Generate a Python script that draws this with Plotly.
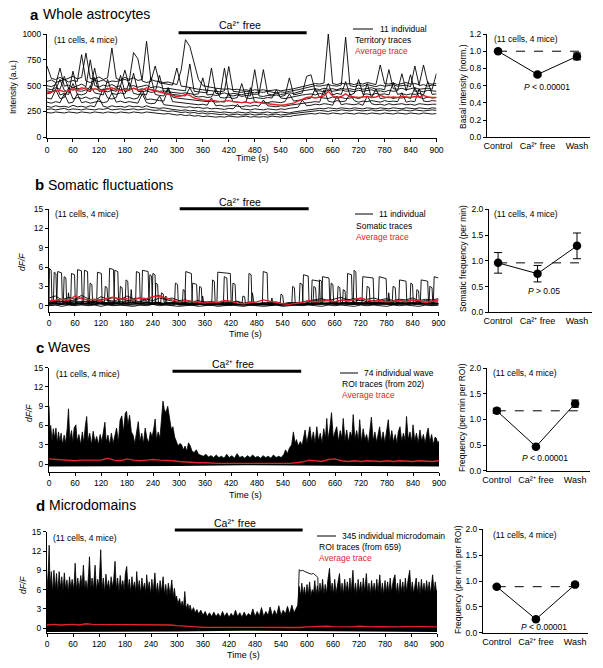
import plotly.graph_objects as go

W, H = 603, 668
FONT = "Liberation Sans, Arial, Helvetica, sans-serif"
RED = "#e4222b"


def fx(p):
    return p / W


def fy(p):
    return 1 - p / H


# ---------------- DATA ----------------
# Panel a: 11 territory traces, sampled every 10 s (0..900)
t_a = list(range(0, 901, 10))
a_cell01 = [690, 570, 560, 580, 555, 570, 590, 565, 580, 815,
            570, 560, 585, 560, 575, 865, 570, 555, 580, 560,
            575, 550, 560, 930, 560, 545, 540, 530, 535, 520,
            510, 650, 945, 880, 720, 560, 500, 490, 480, 475,
            470, 465, 470, 460, 465, 455, 460, 450, 460, 455,
            460, 450, 455, 460, 450, 455, 460, 470, 480, 490,
            500, 510, 520, 515, 525, 1000, 520, 510, 525, 515,
            520, 510, 525, 515, 530, 520, 510, 700, 520, 515,
            525, 510, 520, 530, 515, 520, 510, 700, 520, 515,
            520]
a_cell02 = [540, 555, 530, 545, 560, 535, 550, 540, 800, 545,
            530, 550, 540, 555, 530, 545, 540, 550, 560, 545,
            820, 760, 545, 530, 540, 690, 525, 520, 510, 505,
            670, 495, 490, 480, 470, 465, 460, 455, 450, 445,
            440, 450, 685, 445, 440, 435, 445, 440, 430, 440,
            435, 445, 440, 430, 440, 435, 445, 450, 460, 470,
            480, 490, 500, 495, 505, 510, 500, 495, 505, 970,
            500, 490, 505, 495, 510, 500, 490, 505, 495, 500,
            510, 495, 500, 505, 490, 690, 500, 510, 495, 505,
            500]
a_cell03 = [500, 490, 510, 670, 495, 505, 480, 500, 515, 490,
            750, 500, 485, 505, 495, 510, 490, 500, 650, 495,
            500, 485, 495, 505, 480, 490, 485, 470, 475, 465,
            460, 455, 450, 710, 445, 440, 435, 430, 670, 425,
            420, 430, 415, 425, 420, 410, 425, 420, 415, 420,
            655, 420, 410, 425, 415, 420, 430, 425, 440, 450,
            455, 465, 470, 460, 475, 465, 470, 460, 475, 465,
            470, 460, 475, 465, 470, 480, 465, 470, 460, 655,
            470, 465, 475, 460, 470, 480, 465, 470, 475, 465,
            620]
a_cell04 = [470, 460, 480, 465, 590, 470, 455, 475, 465, 480,
            460, 670, 470, 455, 475, 465, 480, 460, 470, 465,
            475, 460, 470, 455, 465, 450, 445, 450, 440, 435,
            430, 425, 430, 420, 415, 420, 575, 410, 415, 405,
            410, 670, 405, 400, 410, 395, 405, 400, 655, 400,
            395, 405, 400, 410, 395, 405, 575, 410, 420, 430,
            590, 605, 445, 450, 440, 455, 445, 450, 460, 445,
            450, 440, 455, 445, 450, 460, 445, 450, 440, 455,
            445, 450, 615, 450, 605, 445, 450, 440, 455, 450,
            445]
a_cell05 = [450, 440, 460, 560, 455, 435, 640, 450, 445, 460,
            440, 580, 445, 450, 440, 455, 445, 600, 440, 455,
            620, 445, 440, 450, 435, 440, 600, 430, 420, 415,
            410, 405, 400, 480, 400, 390, 395, 385, 390, 470,
            385, 380, 390, 375, 385, 520, 380, 375, 385, 380,
            375, 385, 380, 460, 380, 375, 385, 390, 400, 410,
            415, 420, 410, 425, 415, 520, 410, 425, 415, 540,
            410, 425, 560, 415, 420, 410, 425, 415, 420, 410,
            530, 415, 425, 410, 420, 415, 425, 410, 540, 415,
            420]
a_cell06 = [420, 430, 520, 410, 425, 415, 520, 420, 410, 425,
            500, 430, 420, 410, 560, 425, 415, 430, 420, 530,
            425, 415, 420, 410, 580, 415, 405, 400, 480, 390,
            380, 375, 370, 365, 360, 355, 350, 345, 350, 340,
            345, 340, 430, 345, 340, 335, 345, 480, 340, 335,
            340, 335, 345, 340, 335, 345, 420, 350, 360, 365,
            370, 380, 470, 385, 380, 375, 390, 380, 385, 375,
            380, 385, 375, 390, 520, 380, 470, 375, 380, 390,
            375, 385, 380, 390, 375, 480, 385, 375, 390, 380,
            385]
a_cell07 = [380, 370, 460, 375, 385, 480, 370, 385, 375, 390,
            370, 385, 375, 470, 380, 370, 385, 500, 375, 385,
            370, 380, 460, 365, 370, 360, 355, 350, 470, 345,
            340, 335, 330, 325, 320, 315, 320, 310, 380, 305,
            310, 300, 305, 310, 300, 295, 305, 300, 310, 300,
            360, 305, 300, 295, 305, 300, 310, 315, 320, 330,
            335, 340, 345, 340, 460, 350, 340, 355, 345, 350,
            420, 355, 340, 350, 345, 355, 350, 340, 355, 345,
            350, 345, 430, 340, 350, 345, 470, 350, 345, 355,
            350]
a_cell08 = [340, 330, 345, 335, 420, 330, 340, 420, 335, 345,
            330, 340, 350, 335, 345, 430, 340, 350, 335, 345,
            340, 330, 420, 335, 325, 330, 400, 315, 310, 305,
            300, 295, 290, 295, 285, 290, 280, 285, 275, 280,
            275, 270, 280, 275, 320, 275, 270, 265, 275, 270,
            265, 275, 270, 265, 275, 270, 280, 285, 290, 360,
            305, 310, 320, 315, 325, 320, 310, 400, 315, 325,
            320, 315, 325, 310, 400, 325, 315, 320, 310, 325,
            315, 320, 325, 315, 320, 310, 325, 320, 315, 320,
            320]
a_cell09 = [300, 290, 305, 295, 300, 290, 310, 295, 300, 290,
            305, 295, 380, 300, 290, 305, 295, 300, 290, 305,
            295, 300, 290, 305, 290, 285, 280, 285, 275, 270,
            265, 260, 265, 255, 260, 250, 255, 245, 250, 245,
            240, 245, 240, 235, 245, 240, 235, 245, 240, 235,
            240, 245, 235, 240, 245, 240, 235, 245, 250, 260,
            265, 270, 275, 280, 275, 285, 280, 275, 285, 280,
            275, 285, 280, 275, 285, 280, 275, 285, 280, 275,
            285, 280, 275, 285, 280, 275, 285, 280, 275, 285,
            280]
a_cell10 = [270, 275, 265, 270, 280, 265, 275, 270, 265, 275,
            270, 265, 275, 270, 280, 265, 270, 275, 265, 270,
            275, 265, 270, 275, 265, 260, 265, 255, 250, 255,
            245, 240, 245, 235, 240, 230, 235, 225, 230, 225,
            220, 225, 215, 220, 225, 215, 220, 225, 215, 220,
            225, 215, 220, 225, 215, 220, 225, 230, 235, 240,
            245, 250, 255, 260, 255, 250, 260, 255, 265, 260,
            255, 265, 260, 255, 260, 265, 255, 260, 265, 255,
            260, 255, 265, 260, 255, 265, 260, 255, 260, 265,
            260]
a_cell11 = [240, 235, 245, 240, 235, 245, 240, 235, 245, 240,
            235, 245, 240, 235, 245, 240, 235, 245, 240, 235,
            245, 240, 235, 245, 240, 235, 230, 225, 230, 220,
            215, 220, 210, 215, 205, 210, 200, 205, 200, 195,
            200, 195, 205, 200, 195, 200, 205, 195, 200, 195,
            200, 195, 205, 200, 195, 205, 200, 210, 215, 220,
            225, 230, 225, 235, 230, 225, 235, 230, 225, 235,
            230, 225, 235, 230, 225, 235, 230, 225, 235, 230,
            225, 235, 230, 225, 235, 230, 225, 235, 230, 225,
            230]
a_average = [430, 440, 445, 455, 440, 450, 470, 455, 480, 470,
             455, 470, 460, 450, 465, 480, 460, 450, 465, 455,
             475, 460, 455, 480, 460, 450, 440, 430, 420, 410,
             395, 400, 415, 405, 380, 370, 360, 355, 360, 350,
             345, 350, 355, 345, 340, 335, 340, 330, 345, 335,
             330, 325, 320, 315, 310, 315, 320, 330, 350, 370,
             385, 390, 380, 390, 400, 445, 400, 385, 395, 420,
             395, 390, 385, 390, 395, 385, 390, 405, 390, 385,
             390, 385, 395, 390, 385, 395, 390, 405, 390, 385,
             385]

# Panel b: somatic traces with events, as (time s, dF/F) points
b_cell01 = [(0, 0.4), (1, 5.8), (5, 5.5), (7, 0.4), (25, 0.3), (40, 0.5), (50, 0.3), (52, 5.0), (59, 4.8), (61, 0.4),
            (80, 0.3), (100, 0.5), (120, 0.3), (138, 0.4), (140, 5.8), (149, 5.6), (151, 0.4), (170, 0.3), (190, 0.5),
            (214, 0.3), (216, 5.5), (229, 5.3), (231, 0.4), (260, 0.3), (290, 0.4), (314, 0.3), (316, 5.3), (329, 5.0),
            (331, 0.3), (360, 0.3), (388, 0.4), (390, 5.2), (419, 5.0), (421, 0.3), (450, 0.2), (480, 0.3), (493, 0.3),
            (495, 5.3), (504, 5.1), (506, 0.3), (540, 0.2), (570, 0.3), (586, 0.3), (588, 4.8), (599, 4.6), (601, 0.3),
            (640, 0.4), (670, 0.3), (688, 0.4), (690, 5.0), (699, 4.8), (701, 0.4), (723, 0.3), (725, 4.5), (749, 4.3),
            (751, 0.4), (790, 0.3), (830, 0.4), (858, 0.3), (860, 4.0), (875, 3.8), (877, 0.4), (900, 0.3)]
b_cell02 = [(0, 0.2), (10, 0.3), (12, 5.2), (16, 5.0), (18, 0.3), (40, 0.2), (64, 0.3), (66, 5.6), (75, 5.4), (77, 0.3),
            (100, 0.2), (130, 0.3), (150, 0.2), (152, 5.5), (159, 5.3), (161, 0.3), (185, 0.2), (200, 0.3), (202, 5.3),
            (209, 5.1), (211, 0.3), (250, 0.2), (300, 0.3), (330, 0.2), (332, 3.5), (341, 3.3), (343, 0.3), (400, 0.2),
            (460, 0.2), (462, 5.0), (467, 4.8), (469, 0.2), (520, 0.3), (580, 0.2), (606, 0.3), (608, 4.0), (625, 3.8),
            (627, 0.3), (660, 0.4), (703, 0.3), (705, 5.5), (709, 5.2), (711, 0.3), (760, 0.4), (808, 0.3), (810, 4.0),
            (825, 3.8), (827, 0.3), (860, 0.4), (888, 0.3), (890, 4.5), (900, 4.3)]
b_cell03 = [(0, 0.5), (18, 0.4), (20, 5.3), (29, 5.1), (31, 0.5), (60, 0.4), (80, 0.5), (82, 5.5), (89, 5.3), (91, 0.4),
            (130, 0.5), (176, 0.4), (178, 4.0), (182, 3.8), (184, 0.5), (210, 0.4), (231, 0.5), (233, 4.8), (237, 4.6),
            (239, 0.4), (290, 0.3), (340, 0.3), (376, 0.3), (378, 4.0), (382, 3.8), (384, 0.3), (403, 0.3), (405, 4.5),
            (411, 4.3), (413, 0.3), (480, 0.2), (561, 0.2), (563, 3.0), (567, 2.8), (569, 0.2), (600, 0.3), (630, 0.3),
            (632, 4.5), (647, 4.3), (649, 0.3), (700, 0.4), (761, 0.3), (763, 4.5), (779, 4.2), (781, 0.3), (840, 0.4),
            (900, 0.3)]
b_cell04 = [(0, 0.1), (33, 0.2), (35, 4.5), (39, 4.3), (41, 0.2), (80, 0.1), (110, 0.2), (112, 5.2), (121, 5.0),
            (123, 0.2), (180, 0.1), (245, 0.2), (247, 3.5), (251, 3.3), (253, 0.2), (290, 0.1), (292, 3.5), (297, 3.3),
            (299, 0.1), (346, 0.1), (348, 3.0), (352, 2.8), (354, 0.1), (423, 0.1), (425, 3.5), (430, 3.3), (432, 0.1),
            (500, 0.1), (578, 0.1), (580, 3.5), (585, 3.3), (587, 0.2), (650, 0.2), (652, 3.5), (656, 3.3), (658, 0.2),
            (740, 0.2), (834, 0.2), (836, 3.5), (840, 3.3), (842, 0.2), (900, 0.1)]
b_cell05 = [(0, 0.6), (50, 0.7), (128, 0.6), (130, 3.0), (134, 2.8), (136, 0.6), (188, 0.6), (190, 2.5), (192, 0.6),
            (258, 0.5), (260, 2.0), (264, 1.8), (266, 0.5), (350, 0.4), (446, 0.3), (448, 1.5), (452, 1.4), (454, 0.3),
            (534, 0.3), (536, 1.8), (540, 1.6), (542, 0.3), (623, 0.4), (625, 4.0), (630, 3.8), (632, 0.4), (666, 0.5),
            (668, 3.0), (672, 2.8), (674, 0.5), (793, 0.5), (795, 3.0), (800, 2.8), (802, 0.5), (900, 0.6)]
b_cell06 = [(0, 0.3), (43, 0.3), (45, 2.0), (48, 0.3), (93, 0.3), (95, 3.5), (99, 3.3), (101, 0.3), (163, 0.3),
            (165, 3.0), (169, 2.8), (171, 0.3), (238, 0.3), (240, 5.0), (245, 4.8), (247, 0.3), (268, 0.3), (270, 1.5),
            (273, 0.3), (308, 0.2), (310, 2.5), (314, 2.3), (316, 0.2), (353, 0.2), (355, 1.5), (358, 0.2), (468, 0.2),
            (470, 2.0), (474, 0.2), (513, 0.2), (515, 1.2), (518, 0.2), (610, 0.3), (612, 3.0), (616, 2.8), (618, 0.3),
            (678, 0.3), (680, 2.5), (684, 2.3), (686, 0.3), (733, 0.3), (735, 3.0), (740, 2.8), (742, 0.3), (783, 0.3),
            (785, 2.0), (788, 0.3), (848, 0.3), (850, 2.5), (854, 2.3), (856, 0.3), (878, 0.3), (880, 3.0), (885, 2.8),
            (887, 0.3), (900, 0.3)]
# quieter somatic traces, every 15 s
t_b = list(range(0, 901, 15))
b_cell07 = [0.8, 0.6, 1.0, 0.7, 0.9, 1.2, 0.8, 0.6, 1.0, 0.9, 0.7, 1.1, 0.8, 0.9, 0.6, 1.0, 0.8, 1.2, 0.9, 0.7,
            0.6, 0.5, 0.7, 0.4, 0.6, 0.5, 0.3, 0.5, 0.4, 0.6, 0.3, 0.5, 0.4, 0.3, 0.5, 0.4, 0.3, 0.4, 0.5, 0.3,
            0.6, 0.8, 0.7, 0.9, 0.6, 0.8, 1.0, 0.7, 0.9, 0.6, 0.8, 0.7, 0.9, 0.6, 0.8, 0.7, 0.9, 0.6, 0.8, 0.7, 0.9]
b_cell08 = [0.3, 0.5, 0.2, 0.4, 0.6, 0.3, 0.5, 0.2, 0.4, 0.3, 0.5, 0.2, 0.4, 0.6, 0.3, 0.5, 0.2, 0.4, 0.3, 0.5,
            0.2, 0.3, 0.1, 0.3, 0.2, 0.1, 0.3, 0.2, 0.1, 0.2, 0.1, 0.2, 0.1, 0.3, 0.1, 0.2, 0.1, 0.2, 0.1, 0.2,
            0.3, 0.2, 0.4, 0.3, 0.2, 0.4, 0.3, 0.2, 0.4, 0.3, 0.2, 0.4, 0.3, 0.2, 0.4, 0.3, 0.2, 0.4, 0.3, 0.2, 0.3]
b_cell09 = [0.0, 0.1, -0.1, 0.1, 0.0, 0.2, 0.0, 0.1, -0.1, 0.1, 0.0, 0.1, 0.0, -0.1, 0.1, 0.0, 0.2, 0.0, 0.1, 0.0,
            -0.1, 0.0, 0.1, -0.1, 0.0, 0.1, -0.1, 0.0, 0.1, 0.0, -0.1, 0.1, 0.0, -0.1, 0.0, 0.1, -0.1, 0.0, 0.1, 0.0,
            0.1, 0.0, -0.1, 0.1, 0.0, 0.1, 0.0, -0.1, 0.1, 0.0, 0.1, 0.0, -0.1, 0.1, 0.0, 0.1, 0.0, -0.1, 0.1, 0.0, 0.1]
b_cell10 = [1.2, 1.5, 0.9, 1.3, 1.0, 1.6, 1.1, 0.8, 1.4, 1.0, 1.3, 0.9, 1.5, 1.1, 1.2, 0.8, 1.4, 1.6, 1.0, 1.2,
            0.8, 0.9, 0.6, 0.8, 0.5, 0.7, 0.4, 0.6, 0.5, 0.7, 0.4, 0.6, 0.3, 0.5, 0.4, 0.6, 0.3, 0.5, 0.4, 0.6,
            0.7, 0.9, 1.1, 0.8, 1.0, 1.3, 0.9, 1.1, 0.8, 1.0, 1.2, 0.9, 1.1, 0.8, 1.0, 0.9, 1.2, 0.8, 1.0, 0.9, 1.1]
b_cell11 = [0.5, 0.3, 0.6, 0.4, 0.2, 0.5, 0.3, 0.6, 0.4, 0.5, 0.3, 0.6, 0.4, 0.5, 0.3, 0.6, 0.4, 0.5, 0.3, 0.4,
            0.3, 0.2, 0.4, 0.2, 0.3, 0.1, 0.3, 0.2, 0.1, 0.3, 0.2, 0.1, 0.3, 0.2, 0.1, 0.2, 0.1, 0.3, 0.2, 0.1,
            0.3, 0.5, 0.4, 0.3, 0.5, 0.4, 0.3, 0.5, 0.4, 0.3, 0.5, 0.4, 0.3, 0.5, 0.4, 0.3, 0.5, 0.4, 0.3, 0.5, 0.4]
b_average = [0.7, 0.9, 1.0, 0.8, 1.5, 1.1, 0.9, 1.0, 0.8, 1.2, 1.3, 1.0, 1.1, 0.9, 1.2, 1.1, 1.4, 1.5, 1.2, 1.0,
             0.6, 0.8, 0.7, 0.5, 0.4, 0.6, 0.5, 0.8, 0.7, 0.4, 0.3, 0.5, 0.6, 0.9, 0.7, 0.4, 0.3, 0.2, 0.3, 0.5,
             0.8, 0.6, 0.7, 0.8, 0.6, 0.9, 0.7, 1.0, 1.2, 0.9, 0.7, 0.8, 0.6, 0.7, 0.8, 0.6, 0.9, 0.8, 0.5, 0.7, 0.9]

# Panel c: upper edge of the 74 wave ROI traces (time s, dF/F), lower edge, average
c_upper = [(0, 9.0), (2, 5), (4, 6), (7, 3.5), (10, 5.5), (13, 4), (16, 5.6), (19, 3.2), (22, 5.0), (25, 3.5), (28, 4.8),
           (31, 3.0), (35, 4.5), (38, 3.2), (42, 5.5), (45, 8.6), (48, 3.8), (52, 5.2), (55, 3.3), (58, 5.6), (62, 6.1),
           (65, 3.5), (69, 4.6), (73, 3.0), (77, 5.0), (80, 3.3), (84, 6.0), (87, 7.4), (90, 3.6), (94, 4.8), (98, 3.0),
           (102, 5.1), (106, 3.4), (110, 4.3), (114, 3.0), (118, 4.6), (122, 3.5), (126, 5.2), (129, 6.5), (132, 3.4),
           (136, 4.5), (140, 3.0), (144, 4.8), (148, 3.2), (152, 4.4), (156, 5.6), (160, 3.3), (164, 6.8), (168, 7.5),
           (172, 5.0), (176, 7.9), (179, 8.2), (182, 6.0), (186, 7.6), (190, 5.0), (194, 4.5), (198, 3.2), (202, 5.2),
           (206, 6.6), (210, 3.5), (214, 4.8), (218, 3.2), (222, 5.6), (226, 4.0), (230, 3.3), (234, 5.0), (238, 4.2),
           (242, 5.6), (245, 7.0), (248, 3.8), (252, 5.0), (256, 4.0), (260, 7.5), (263, 9.8), (266, 8.5), (270, 8.0),
           (274, 9.0), (278, 7.5), (282, 5.5), (286, 5.8), (290, 4.2), (294, 3.5), (298, 2.8), (302, 3.2), (306, 3.0),
           (310, 2.2), (314, 2.8), (318, 2.0), (322, 3.3), (326, 2.8), (330, 2.0), (335, 1.8), (340, 2.2), (345, 1.5),
           (350, 1.4), (356, 1.2), (362, 1.5), (368, 1.1), (374, 1.3), (380, 1.0), (386, 1.4), (392, 1.0), (398, 1.2),
           (404, 0.9), (410, 1.5), (416, 1.0), (422, 1.3), (428, 0.9), (434, 1.6), (440, 1.0), (446, 1.2), (452, 0.9),
           (458, 1.3), (464, 1.0), (470, 1.4), (476, 1.0), (482, 1.2), (488, 0.9), (494, 1.3), (500, 1.0), (506, 1.2),
           (512, 0.9), (518, 1.4), (524, 1.0), (530, 1.2), (536, 1.0), (542, 1.5), (546, 2.2), (550, 1.6), (555, 2.5),
           (560, 3.0), (564, 5.0), (568, 3.2), (571, 3.8), (575, 2.8), (580, 3.5), (584, 2.9), (588, 4.5), (591, 5.3),
           (595, 3.2), (598, 4.6), (602, 5.8), (606, 3.5), (610, 5.0), (614, 3.2), (618, 5.8), (622, 3.6), (626, 4.8),
           (630, 3.2), (634, 5.5), (638, 4.0), (641, 7.1), (644, 3.8), (648, 5.5), (652, 8.0), (656, 4.0), (660, 5.0),
           (664, 5.8), (668, 3.5), (672, 5.2), (676, 4.0), (679, 7.1), (683, 3.6), (687, 5.3), (691, 3.4), (695, 5.0),
           (699, 4.2), (702, 7.7), (706, 3.8), (710, 5.2), (714, 3.6), (717, 6.9), (721, 3.4), (725, 5.5), (729, 3.8),
           (733, 4.6), (737, 3.2), (741, 5.4), (744, 7.3), (748, 3.6), (752, 5.0), (756, 3.4), (760, 4.6), (763, 5.8),
           (767, 3.5), (771, 5.0), (775, 3.3), (779, 4.8), (783, 6.9), (787, 3.6), (791, 5.2), (795, 3.4), (799, 4.6),
           (803, 3.2), (806, 5.0), (810, 5.8), (814, 3.5), (818, 4.8), (822, 3.6), (825, 7.4), (829, 3.8), (833, 5.0),
           (837, 3.4), (840, 6.1), (844, 3.6), (848, 4.8), (852, 3.2), (856, 5.3), (860, 3.6), (864, 4.6), (868, 3.2),
           (872, 4.8), (875, 5.6), (879, 3.4), (883, 4.6), (887, 3.0), (891, 4.2), (894, 4.0), (897, 3.2), (900, 3.6)]
c_lower = [(0, -0.4), (150, -0.4), (300, -0.3), (450, -0.2), (600, -0.3), (750, -0.4), (900, -0.4)]
t_c = list(range(0, 901, 15))
c_average = [0.8, 0.7, 0.6, 0.6, 0.5, 0.6, 0.6, 0.5, 0.6, 0.9, 0.6, 0.5, 0.8, 0.6, 0.5, 0.6, 0.7, 0.6, 0.6, 0.5,
             0.4, 0.3, 0.3, 0.2, 0.2, 0.1, 0.1, 0.1, 0.1, 0.1, 0.1, 0.0, 0.1, 0.1, 0.0, 0.1, 0.1, 0.1, 0.2, 0.3,
             0.6, 0.5, 0.4, 0.7, 0.8, 0.5, 0.4, 0.5, 0.4, 0.5, 0.4, 0.4, 0.5, 0.4, 0.5, 0.4, 0.4, 0.5, 0.4, 0.4, 0.5]

# Panel d: upper edge of the 345 microdomain ROI traces, one plateau trace, lower edge, average
d_upper = [(0, 6.0), (3, 9.0), (5, 12.9), (7, 6.5), (10, 8.8), (13, 5.5), (16, 9.0), (19, 6.0), (22, 8.5), (25, 5.5),
           (28, 8.8), (31, 6.2), (34, 8.0), (37, 5.8), (40, 8.6), (43, 6.0), (46, 7.5), (49, 5.6), (52, 8.0), (55, 6.2),
           (58, 7.6), (62, 6.0), (65, 10.1), (68, 5.8), (71, 7.8), (74, 6.0), (78, 8.2), (81, 6.4), (84, 9.8), (87, 6.0),
           (90, 7.4), (93, 5.8), (96, 8.5), (98, 11.1), (101, 6.2), (104, 7.8), (107, 6.0), (111, 9.8), (114, 5.8),
           (117, 7.6), (120, 6.4), (124, 12.2), (127, 6.0), (130, 7.8), (133, 5.6), (136, 8.4), (139, 6.2), (142, 7.4),
           (145, 5.8), (148, 8.0), (151, 6.4), (154, 7.6), (157, 10.4), (160, 6.0), (163, 7.8), (166, 5.6), (169, 8.2),
           (172, 6.2), (175, 7.4), (178, 5.8), (181, 8.6), (184, 9.6), (187, 6.0), (190, 7.6), (193, 5.6), (196, 8.0),
           (199, 6.2), (202, 7.2), (205, 5.6), (207, 8.8), (210, 6.0), (213, 7.4), (216, 5.4), (219, 7.8), (222, 6.0),
           (225, 7.0), (228, 5.4), (230, 8.3), (233, 6.0), (236, 7.2), (239, 5.2), (242, 7.6), (245, 5.6), (249, 8.6),
           (252, 5.4), (255, 7.0), (258, 5.2), (261, 7.4), (264, 5.6), (268, 8.0), (271, 5.2), (274, 6.8), (277, 5.0),
           (280, 7.0), (284, 5.2), (288, 7.5), (291, 4.8), (294, 6.2), (297, 4.4), (299, 5.0), (302, 3.8), (306, 4.6),
           (309, 3.4), (312, 4.2), (315, 3.2), (318, 5.7), (321, 3.0), (325, 3.8), (328, 2.8), (330, 3.6), (334, 2.6),
           (338, 3.2), (342, 2.4), (346, 2.9), (350, 2.2), (355, 2.8), (360, 2.0), (365, 2.6), (370, 1.8), (375, 2.4),
           (380, 1.8), (385, 2.5), (390, 1.8), (395, 2.3), (400, 1.7), (405, 2.6), (410, 1.8), (415, 2.4), (420, 1.7),
           (425, 2.3), (430, 1.8), (435, 2.8), (440, 1.8), (445, 2.4), (450, 1.7), (455, 2.5), (460, 1.8), (465, 2.3),
           (470, 1.9), (475, 3.0), (480, 1.8), (485, 2.6), (490, 1.9), (495, 3.2), (500, 1.8), (505, 2.6), (510, 2.0),
           (515, 3.3), (520, 1.9), (525, 2.8), (530, 2.0), (535, 3.5), (540, 2.0), (545, 2.8), (550, 2.2), (555, 3.4),
           (560, 2.2), (565, 3.6), (570, 2.4), (575, 3.0), (579, 3.6), (582, 6.5), (585, 5.0), (588, 7.0), (591, 5.2),
           (594, 6.4), (597, 5.0), (600, 6.8), (603, 5.2), (606, 7.2), (609, 5.0), (612, 6.0), (615, 5.4), (618, 7.4),
           (621, 5.2), (624, 6.6), (627, 5.0), (630, 7.0), (633, 5.4), (636, 7.6), (639, 5.2), (642, 6.8), (645, 5.4),
           (648, 7.4), (652, 9.3), (655, 5.6), (658, 7.0), (661, 5.2), (664, 7.6), (667, 5.4), (671, 7.2), (675, 8.5),
           (678, 5.4), (681, 7.0), (684, 5.2), (687, 7.6), (690, 5.6), (693, 7.2), (696, 5.4), (699, 7.8), (702, 5.6),
           (706, 9.0), (709, 5.4), (712, 7.0), (715, 5.2), (718, 7.6), (721, 5.6), (724, 7.2), (727, 5.4), (730, 7.8),
           (733, 5.6), (737, 8.5), (740, 5.4), (743, 7.0), (746, 5.2), (749, 7.4), (752, 5.6), (755, 7.0), (758, 5.4),
           (761, 7.6), (764, 5.6), (768, 8.3), (771, 5.4), (774, 7.0), (777, 5.2), (780, 7.4), (783, 5.6), (786, 7.2),
           (789, 5.4), (792, 7.8), (795, 5.6), (799, 7.4), (803, 8.3), (806, 5.4), (809, 7.0), (812, 5.2), (815, 7.6),
           (818, 5.6), (821, 7.2), (824, 5.4), (827, 7.8), (830, 5.6), (833, 7.4), (837, 9.0), (840, 5.6), (843, 7.2),
           (846, 5.4), (849, 7.0), (852, 7.8), (855, 5.4), (858, 7.2), (861, 5.2), (864, 7.6), (867, 5.6), (870, 7.0),
           (873, 5.4), (876, 7.4), (879, 5.6), (882, 7.2), (885, 5.4), (888, 7.6), (890, 8.3), (893, 5.6), (896, 7.2),
           (899, 5.4), (900, 6.0)]
d_plateau = [(578, 0.5), (582, 9.1), (586, 8.9), (590, 9.0), (595, 8.8), (600, 8.7), (605, 8.6), (610, 8.4),
             (615, 8.5), (620, 8.2), (625, 7.9), (627, 0.5)]
d_lower = [(0, -0.6), (150, -0.6), (300, -0.5), (450, -0.4), (600, -0.5), (750, -0.6), (900, -0.6)]
t_d = list(range(0, 901, 15))
d_average = [0.5, 0.6, 0.5, 0.6, 0.6, 0.5, 0.7, 0.6, 0.6, 0.5, 0.5, 0.6, 0.5, 0.5, 0.6, 0.5, 0.6, 0.5, 0.5, 0.5,
             0.4, 0.3, 0.25, 0.2, 0.15, 0.15, 0.1, 0.1, 0.1, 0.1, 0.1, 0.1, 0.05, 0.1, 0.05, 0.05, 0.05, 0.05, 0.1, 0.1,
             0.2, 0.25, 0.2, 0.3, 0.25, 0.2, 0.25, 0.2, 0.3, 0.2, 0.2, 0.25, 0.2, 0.25, 0.2, 0.25, 0.2, 0.25, 0.25, 0.2,
             0.2]

# Summary panels (mean, s.e.m.)
conditions = ["Control", "Ca²⁺ free", "Wash"]
a_basal_mean = [1.0, 0.73, 0.94]
a_basal_err = [0.01, 0.02, 0.04]
b_freq_mean = [0.96, 0.75, 1.29]
b_freq_err = [0.2, 0.16, 0.25]
c_freq_mean = [1.17, 0.47, 1.31]
c_freq_err = [0.05, 0.02, 0.07]
d_freq_mean = [0.89, 0.26, 0.93]
d_freq_err = [0.02, 0.02, 0.03]

# Ca2+-free period (s) per panel
ca_free_a = (304, 600)
ca_free_b = (302, 600)
ca_free_c = (285, 582)
ca_free_d = (295, 590)

# ---------------- FIGURE ----------------
fig = go.Figure()


def unzip(pairs):
    return [p[0] for p in pairs], [p[1] for p in pairs]


def line(x, y, xa, ya, color="black", width=0.8, fill=None):
    fig.add_trace(go.Scatter(x=x, y=y, mode="lines", xaxis=xa, yaxis=ya, showlegend=False,
                             hoverinfo="skip", fill=fill, fillcolor=color if fill else None,
                             line=dict(color=color, width=width)))


# panel a
for tr in [a_cell01, a_cell02, a_cell03, a_cell04, a_cell05, a_cell06,
           a_cell07, a_cell08, a_cell09, a_cell10, a_cell11]:
    line(t_a, tr, "x", "y", width=0.9)
line(t_a, a_average, "x", "y", color=RED, width=1.4)

# panel b
for tr in [b_cell07, b_cell08, b_cell09, b_cell10, b_cell11]:
    line(t_b, tr, "x3", "y3", width=0.9)
for tr in [b_cell01, b_cell02, b_cell03, b_cell04, b_cell05, b_cell06]:
    xx, yy = unzip(tr)
    line(xx, yy, "x3", "y3", width=0.9)
line(t_b, b_average, "x3", "y3", color=RED, width=1.4)

# panel c
xx, yy = unzip(c_lower)
line(xx, yy, "x5", "y5", width=0)
xx, yy = unzip(c_upper)
line(xx, yy, "x5", "y5", width=0.8, fill="tonexty")
line(t_c, c_average, "x5", "y5", color=RED, width=1.4)

# panel d
xx, yy = unzip(d_lower)
line(xx, yy, "x7", "y7", width=0)
xx, yy = unzip(d_upper)
line(xx, yy, "x7", "y7", width=0.8, fill="tonexty")
xx, yy = unzip(d_plateau)
line(xx, yy, "x7", "y7", width=0.9)
line(t_d, d_average, "x7", "y7", color=RED, width=1.4)

# summary panels
for means, errs, xa, ya in [(a_basal_mean, a_basal_err, "x2", "y2"),
                            (b_freq_mean, b_freq_err, "x4", "y4"),
                            (c_freq_mean, c_freq_err, "x6", "y6"),
                            (d_freq_mean, d_freq_err, "x8", "y8")]:
    fig.add_trace(go.Scatter(
        x=[0, 1, 2], y=means, mode="lines+markers", xaxis=xa, yaxis=ya, showlegend=False,
        hoverinfo="skip", line=dict(color="black", width=1),
        marker=dict(color="black", size=8.5),
        error_y=dict(type="data", array=errs, color="black", thickness=1, width=4)))

# ---------------- AXES ----------------
tick_font = dict(family=FONT, size=8.5, color="black")


def time_axis(left, right):
    return dict(domain=[fx(left), fx(right)], range=[0, 900], tickvals=list(range(0, 901, 60)),
                showline=True, linecolor="black", linewidth=1, ticks="outside", ticklen=3,
                tickcolor="black", tickwidth=1, showgrid=False, zeroline=False, tickfont=tick_font,
                automargin=False, fixedrange=True)


def value_axis(bottom, top, rng, tickvals, fmt=None):
    d = dict(domain=[fy(bottom), fy(top)], range=rng, tickvals=tickvals, showline=True,
             linecolor="black", linewidth=1, ticks="outside", ticklen=3, tickcolor="black",
             tickwidth=1, showgrid=False, zeroline=False, tickfont=tick_font, automargin=False,
             fixedrange=True)
    if fmt:
        d["tickformat"] = fmt
    return d


def cat_axis(left, right, rng):
    return dict(domain=[fx(left), fx(right)], range=rng, tickvals=[0, 1, 2], ticktext=conditions,
                showline=True, linecolor="black", linewidth=1, ticks="", showgrid=False,
                zeroline=False, tickfont=dict(family=FONT, size=9, color="black"), automargin=False,
                fixedrange=True)


fig.update_layout(
    template="none",
    width=W, height=H, margin=dict(l=0, r=0, t=0, b=0, pad=0),
    paper_bgcolor="white", plot_bgcolor="white", showlegend=False,
    font=dict(family=FONT, color="black", size=9),
    xaxis=dict(time_axis(47, 436.5), anchor="y"),
    yaxis=dict(value_axis(138.3, 34, [-10, 1000], [0, 250, 500, 750, 1000]), anchor="x"),
    xaxis2=dict(cat_axis(487, 590, [-0.28, 2.33]), anchor="y2"),
    yaxis2=dict(value_axis(137.3, 34, [0, 1.2], [0, 0.2, 0.4, 0.6, 0.8, 1.0, 1.2], ".1f"), anchor="x2"),
    xaxis3=dict(time_axis(49, 438.5), anchor="y3"),
    yaxis3=dict(value_axis(311.7, 209, [-0.93, 15], [0, 3, 6, 9, 12, 15]), anchor="x3"),
    xaxis4=dict(cat_axis(489, 592, [-0.23, 2.38]), anchor="y4"),
    yaxis4=dict(value_axis(312.3, 209.3, [0, 2], [0, 0.5, 1.0, 1.5, 2.0], ".1f"), anchor="x4"),
    xaxis5=dict(time_axis(49, 439), anchor="y5"),
    yaxis5=dict(value_axis(471.7, 367.7, [-1.2, 15], [0, 3, 6, 9, 12, 15]), anchor="x5"),
    xaxis6=dict(cat_axis(487, 590, [-0.25, 2.38]), anchor="y6"),
    yaxis6=dict(value_axis(470.7, 368.3, [0, 2], [0, 0.5, 1.0, 1.5, 2.0], ".1f"), anchor="x6"),
    xaxis7=dict(time_axis(47, 437), anchor="y7"),
    yaxis7=dict(value_axis(632.7, 531.7, [-0.7, 15], [0, 3, 6, 9, 12, 15]), anchor="x7"),
    xaxis8=dict(cat_axis(483, 588, [-0.35, 2.33]), anchor="y8"),
    yaxis8=dict(value_axis(632.7, 529.3, [0, 2], [0, 0.5, 1.0, 1.5, 2.0], ".1f"), anchor="x8"),
)

# ---------------- SHAPES ----------------
shapes = []
for (t0, t1), xa, py in [(ca_free_a, "x", 32.7), (ca_free_b, "x3", 208.7),
                         (ca_free_c, "x5", 371.3), (ca_free_d, "x7", 530)]:
    shapes.append(dict(type="line", xref=xa, yref="paper", x0=t0, x1=t1, y0=fy(py), y1=fy(py),
                       line=dict(color="black", width=3)))
for x0, x1, py in [(353, 373, 29), (355, 373, 214), (340, 358, 373), (317, 336, 536)]:
    shapes.append(dict(type="line", xref="paper", yref="paper", x0=fx(x0), x1=fx(x1), y0=fy(py), y1=fy(py),
                       line=dict(color="black", width=1)))
for means, xa, ya in [(a_basal_mean, "x2", "y2"), (b_freq_mean, "x4", "y4"),
                      (c_freq_mean, "x6", "y6"), (d_freq_mean, "x8", "y8")]:
    shapes.append(dict(type="line", xref=xa, yref=ya, x0=0, x1=2.15, y0=means[0], y1=means[0],
                       line=dict(color="black", width=1, dash="dash"), layer="below"))
fig.update_layout(shapes=shapes)

# ---------------- TEXT ----------------
ann = []


def text(s, px, py, size=8.5, xanchor="left", color="black", angle=0, weight="normal", style="normal"):
    ann.append(dict(text=s, x=fx(px), y=fy(py), xref="paper", yref="paper", xanchor=xanchor,
                    yanchor="middle", showarrow=False, textangle=angle,
                    font=dict(family=FONT, size=size, color=color, weight=weight, style=style)))


# panel titles (bold letter + title)
for letter, title, lx, tx, py in [("a", "Whole astrocytes", 28, 41, 14),
                                  ("b", "Somatic fluctuations", 33, 46, 185),
                                  ("c", "Waves", 34, 46, 347),
                                  ("d", "Microdomains", 34, 47, 505)]:
    text(letter, lx, py, size=15, weight="bold")
    text(title, tx, py, size=14)

# Ca2+ free labels
for cx, cy in [(240, 25), (240, 202), (233, 364), (235, 523)]:
    text("Ca²⁺ free", cx, cy, size=10.5, xanchor="center")

# cell counts
for cx, cy in [(52, 40), (53, 214), (54, 374), (51, 538), (492, 39), (492, 214), (491, 373), (491, 535)]:
    text("(11 cells, 4 mice)", cx, cy)

# legends
text("11 individual", 378, 29)
text("Territory traces", 353, 40)
text("Average trace", 353, 51, color=RED)
text("11 individual", 377, 214)
text("Somatic traces", 354, 226)
text("Average trace", 354, 237, color=RED)
text("74 individual wave", 362, 373)
text("ROI traces (from 202)", 340, 384)
text("Average trace", 340, 395, color=RED)
text("345 individual microdomain", 340, 536)
text("ROI traces (from 659)", 317, 547)
text("Average trace", 317, 558, color=RED)

# axis titles
text("Intensity (a.u.)", 13, 87, xanchor="center", angle=-90)
text("Basal intensity (norm.)", 463, 86, xanchor="center", angle=-90)
text("dF/F", 22, 262, xanchor="center", angle=-90, style="italic")
text("Somatic frequency (per min)", 463, 258, xanchor="center", angle=-90)
text("dF/F", 29, 413, xanchor="center", angle=-90, style="italic")
text("Frequency (per min per ROI)", 462, 418, xanchor="center", angle=-90)
text("dF/F", 23, 585, xanchor="center", angle=-90, style="italic")
text("Frequency (per min per ROI)", 458, 580, xanchor="center", angle=-90)
for cx, cy in [(252, 158), (246, 334), (245, 495), (243, 655)]:
    text("Time (s)", cx, cy, size=9, xanchor="center")

# statistics: italic P + comparison
for px_, py_, rest in [(522, 87, "< 0.00001"), (526, 291, "> 0.05"), (520, 458, "< 0.00001"), (519, 627, "< 0.00001")]:
    text("P", px_, py_, style="italic")
    text(rest, px_ + 8, py_)

fig.update_layout(annotations=ann)

fig.write_html("out.html", config={"displayModeBar": False, "staticPlot": True},
               post_script="document.body.style.margin='0px';")
